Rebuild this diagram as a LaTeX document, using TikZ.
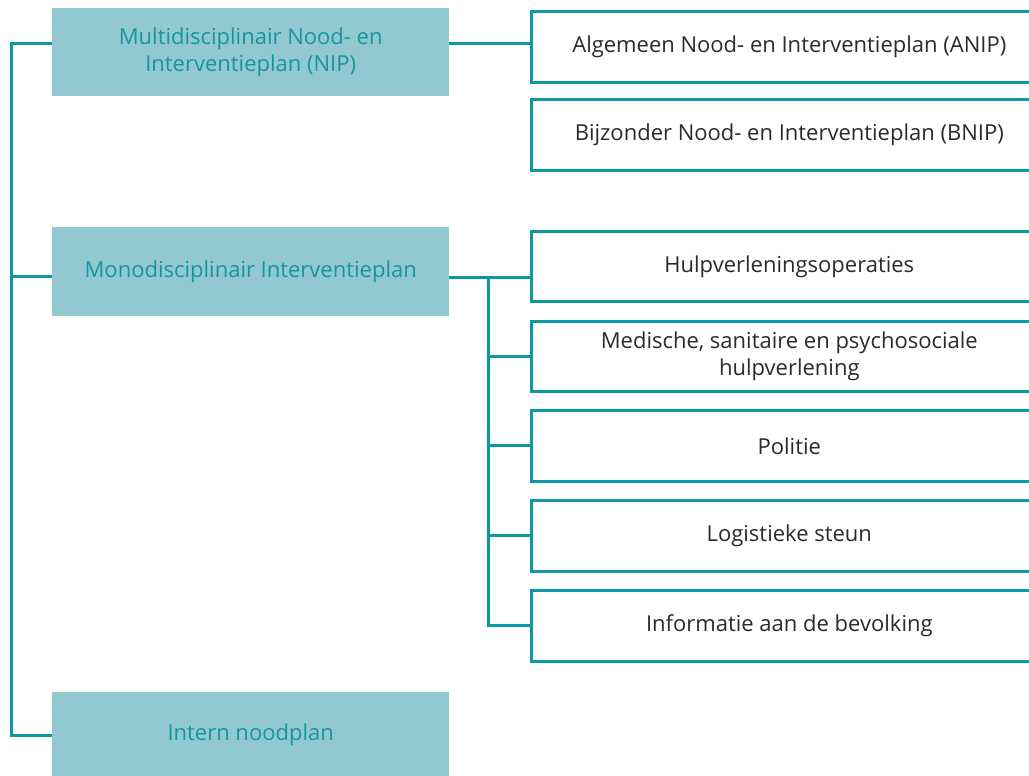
\documentclass[tikz,border=0pt]{standalone}
\usepackage{fontspec}
\setmainfont{Open Sans}
\definecolor{planfill}{HTML}{92C9D1}
\definecolor{planline}{HTML}{0C98A3}
\definecolor{plantext}{HTML}{16959F}
\definecolor{subtext}{HTML}{2B2B2B}
\tikzset{
  mainbox/.style={fill=planfill, text=plantext, anchor=north west, inner sep=0pt,
    minimum width=397pt, align=center, font=\fontsize{22}{27}\selectfont},
  subbox/.style={draw=planline, line width=2.6pt, fill=white, text=subtext, anchor=north west,
    inner sep=0pt, minimum width=516pt, minimum height=71pt, align=center,
    font=\fontsize{22}{27}\selectfont},
  link/.style={draw=planline, line width=3pt}
}
\begin{document}
\begin{tikzpicture}[x=1pt,y=-1pt]
\useasboundingbox (0,0) rectangle (1029,776);
\clip (0,0) rectangle (1029,776);

% main plans
\node [mainbox, minimum height=88pt] (nip) at (52,8) {Multidisciplinair Nood- en\\Interventieplan (NIP)};
\node [mainbox, minimum height=89pt] (mono) at (52,227) {Monodisciplinair Interventieplan};
\node [mainbox, minimum height=86pt] (intern) at (52,692) {Intern noodplan};

% sub plans
\node [subbox] (anip) at (530,10) {Algemeen Nood- en Interventieplan (ANIP)};
\node [subbox] (bnip) at (530,98) {Bijzonder Nood- en Interventieplan (BNIP)};
\node [subbox, minimum height=70pt] (hulp) at (530,230) {Hulpverleningsoperaties};
\node [subbox, minimum height=70pt] (med) at (530,320) {Medische, sanitaire en psychosociale\\hulpverlening};
\node [subbox] (pol) at (530,409) {Politie};
\node [subbox] (log) at (530,499) {Logistieke steun};
\node [subbox] (info) at (530,589) {Informatie aan de bevolking};

% connectors
\coordinate (sp) at (11,44);
\coordinate (mj) at (488,277);
\draw [link] (nip.east |- sp) -- (anip.west |- sp);
\draw [link] (nip.west |- sp) -- (sp) |- (intern.west);
\draw [link] (sp |- 0,276) -- (mono.west |- 0,276);
\draw [link] (mono.east |- mj) -- (hulp.west |- mj);
\draw [link] (mj) |- (info.west);
\draw [link] (mj |- med.west) -- (med.west);
\draw [link] (mj |- pol.west) -- (pol.west);
\draw [link] (mj |- log.west) -- (log.west);
\end{tikzpicture}
\end{document}
